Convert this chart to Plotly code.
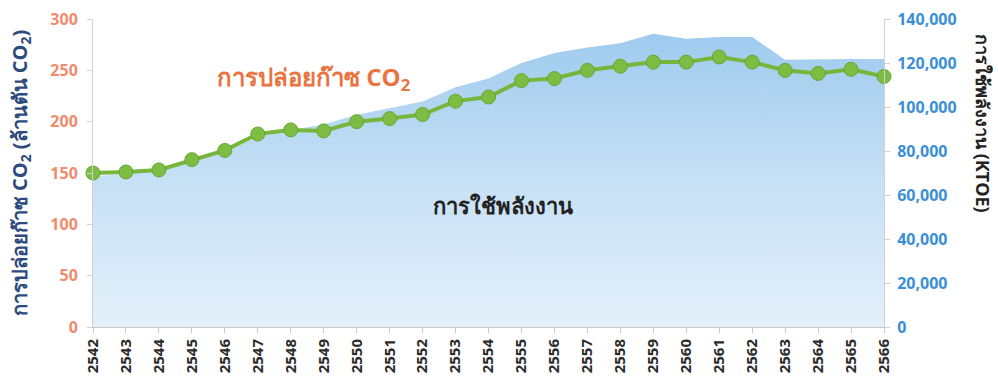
import plotly.graph_objects as go

years = list(range(2542, 2567))
co2 = [150, 151, 153, 163, 172, 188, 192, 191, 200, 203, 207, 220, 224,
       240, 242, 250, 254, 258, 258, 263, 258, 250, 247, 251, 244]
energy = [68500, 69500, 71000, 75000, 79500, 86500, 89500, 92000, 96500, 99500,
          102500, 109000, 113000, 120000, 124500, 127000, 129000, 133300, 131000,
          131800, 131800, 121500, 121800, 121800, 121800]

left_ticks = [0, 50, 100, 150, 200, 250, 300]
right_ticks = [0, 20000, 40000, 60000, 80000, 100000, 120000, 140000]

font = "Open Sans, Noto Sans, DejaVu Sans, sans-serif"

fig = go.Figure()
fig.add_trace(go.Scatter(
    x=years, y=energy, mode="lines", line=dict(width=0, color="rgba(0,0,0,0)"),
    fill="tozeroy",
    fillgradient=dict(type="vertical", start=0, stop=135000,
                      colorscale=[[0, "#e4f0fa"], [0.5, "#c6e0f5"], [1, "#9ecaee"]]),
    yaxis="y", hoverinfo="skip", showlegend=False))
fig.add_trace(go.Scatter(
    x=years, y=co2, mode="lines+markers", yaxis="y2",
    line=dict(color="#77b63b", width=4),
    marker=dict(size=14, color="#7dbd43", line=dict(width=1, color="#68a632")),
    cliponaxis=False, showlegend=False))

fig.update_layout(
    width=998, height=379,
    margin=dict(l=93, r=114, t=19, b=52),
    paper_bgcolor="white", plot_bgcolor="white",
    font=dict(family=font),
    xaxis=dict(range=[2542, 2566], tickmode="array", tickvals=years,
               ticktext=[str(y) for y in years], tickangle=-90, automargin=False,
               tickfont=dict(size=15, color="#2b2b2b", family=font, weight="bold"),
               showgrid=False, showline=True, linecolor="#c8c8c8", linewidth=1,
               ticks="outside", ticklen=5, tickcolor="#c8c8c8", zeroline=False),
    yaxis=dict(range=[0, 140000], side="right", tickmode="array", tickvals=right_ticks,
               ticktext=[f"{v:,}" for v in right_ticks], automargin=False,
               tickfont=dict(size=16, color="#3b8fd6", family=font, weight="bold"),
               ticklabelstandoff=4,
               showgrid=False, showline=True, linecolor="#d0d0d0", linewidth=1,
               ticks="outside", ticklen=5, tickcolor="#d0d0d0", zeroline=False),
    yaxis2=dict(range=[0, 300], side="left", overlaying="y", tickmode="array",
                tickvals=left_ticks, automargin=False,
                tickfont=dict(size=16, color="#f28a6c", family=font, weight="bold"),
                ticklabelstandoff=6,
                showgrid=False, showline=True, linecolor="#d0d0d0", linewidth=1,
                ticks="outside", ticklen=5, tickcolor="#d0d0d0", zeroline=False),
)

fig.add_annotation(text="การปล่อยก๊าซ CO<sub>2</sub> (ล้านตัน CO<sub>2</sub>)",
                   xref="paper", yref="paper", x=-0.092, y=0.5, textangle=-90,
                   showarrow=False, xanchor="center", yanchor="middle",
                   font=dict(size=20, color="#2e4a7d", family=font, weight="bold"))
fig.add_annotation(text="การใช้พลังงาน (KTOE)",
                   xref="paper", yref="paper", x=1.126, y=0.66, textangle=90,
                   showarrow=False, xanchor="center", yanchor="middle",
                   font=dict(size=18, color="#222222", family=font, weight="bold"))
fig.add_annotation(text="การปล่อยก๊าซ CO<sub>2</sub>",
                   xref="paper", yref="paper", x=0.280, y=0.81,
                   showarrow=False, xanchor="center", yanchor="middle",
                   font=dict(size=24, color="#ea7440", family=font, weight="bold"))
fig.add_annotation(text="การใช้พลังงาน",
                   xref="paper", yref="paper", x=0.518, y=0.396,
                   showarrow=False, xanchor="center", yanchor="middle",
                   font=dict(size=22, color="#222222", family=font, weight="bold"))

fig.write_html("out.html")
